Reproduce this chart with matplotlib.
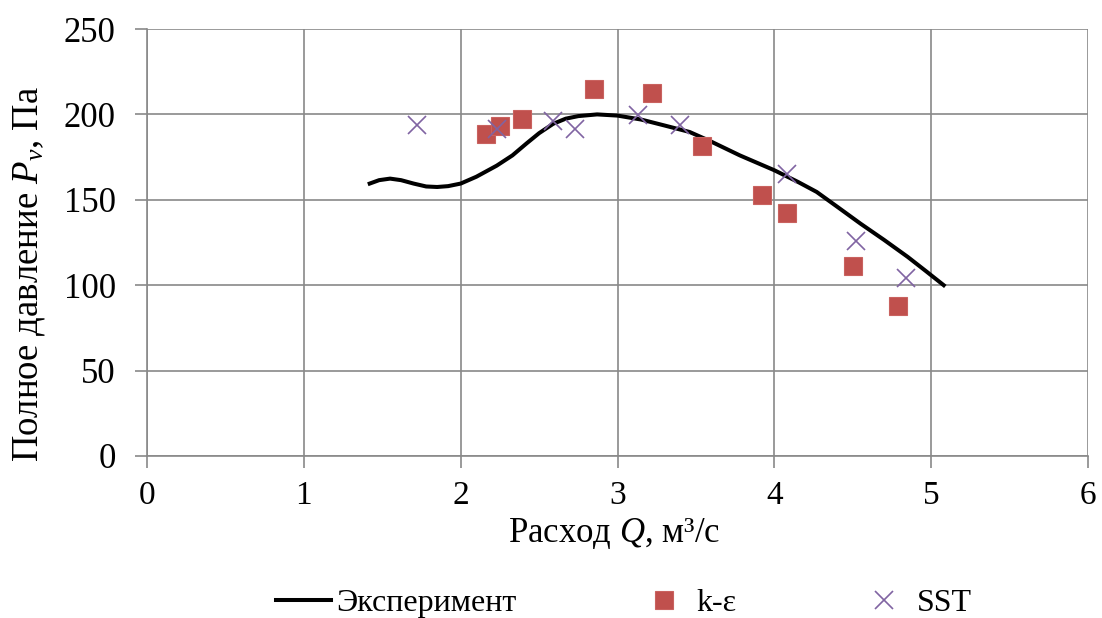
import matplotlib
matplotlib.use("Agg")
import matplotlib.pyplot as plt

plt.rcParams['font.family'] = ['Liberation Serif', 'DejaVu Serif']
plt.rcParams['mathtext.fontset'] = 'custom'
plt.rcParams['mathtext.rm'] = 'Liberation Serif'
plt.rcParams['mathtext.it'] = 'Liberation Serif:italic'

q_exp = [1.42, 1.48, 1.55, 1.62, 1.70, 1.78, 1.85, 1.92, 2.00, 2.10, 2.23, 2.33,
         2.42, 2.50, 2.59, 2.67, 2.75, 2.87, 3.00, 3.15, 3.30, 3.46, 3.59, 3.78,
         4.00, 4.15, 4.27, 4.40, 4.55, 4.70, 4.85, 4.97, 5.08]
p_exp = [159.5, 161.5, 162.4, 161.5, 159.5, 157.8, 157.5, 158.0, 159.5, 163.5, 170.0, 176.0,
         183.0, 189.0, 194.5, 197.5, 199.0, 200.0, 199.3, 197.0, 193.5, 189.7, 184.4, 176.0,
         167.3, 160.5, 154.6, 146.0, 136.0, 126.5, 116.6, 108.0, 100.0]

# k-epsilon
q_ke = [2.16, 2.25, 2.39, 2.85, 3.22, 3.54, 3.92, 4.08, 4.50, 4.79]
p_ke = [188.3, 193.0, 197.5, 215.0, 212.7, 181.3, 153.0, 142.5, 111.0, 87.7]

# SST
q_sst = [1.72, 2.23, 2.59, 2.73, 3.13, 3.40, 4.08, 4.52, 4.84]
p_sst = [194.0, 191.6, 196.0, 191.6, 199.8, 194.0, 165.0, 126.0, 104.0]

grid_c = '#898989'

fig = plt.figure(figsize=(11.02, 6.18), dpi=100)
ax = fig.add_axes([147 / 1102, 1 - 456 / 618, 941 / 1102, 427 / 618])

ax.plot(q_exp, p_exp, color='black', lw=2.9, label='Эксперимент', zorder=3)
ax.plot(q_ke, p_ke, ls='none', marker='s', ms=12.5, color='#C0504D',
        mec='#C9625F', mew=0.8, label='k-ε', zorder=4)
ax.plot(q_sst, p_sst, ls='none', marker='x', ms=13, mew=1.2, color='#8064A2',
        label='SST', zorder=5)

ax.set_xlim(0, 6)
ax.set_ylim(0, 250)
ax.set_xticks(range(0, 7))
ax.set_yticks(range(0, 251, 50))
ax.grid(True, color=grid_c, lw=1.2, zorder=0)
ax.set_axisbelow(True)
for s in ['top', 'right']:
    ax.spines[s].set_visible(False)
for s in ['left', 'bottom']:
    ax.spines[s].set_color(grid_c)
    ax.spines[s].set_linewidth(1.2)
ax.tick_params(axis='both', direction='out', length=8.5, width=1.2,
               color=grid_c)
ax.tick_params(axis='y', pad=14, labelsize=25)
ax.tick_params(axis='x', pad=9, labelsize=24)

fig.text(614 / 1102, 1 - 542 / 618, 'Расход $Q$, м³/с', fontsize=25,
         ha='center', va='baseline')
fig.text(29 / 1102, 1 - 274 / 618, 'Полное давление $P_v$, Па', fontsize=26.5,
         ha='center', va='center', rotation=90)

fig.legend(loc='center', bbox_to_anchor=(624 / 1102, 1 - 603 / 618), ncol=3,
           frameon=False, fontsize=23, handlelength=1.72, handletextpad=0.16,
           columnspacing=3.75, borderpad=0)

fig.savefig('out.png', dpi=100)
